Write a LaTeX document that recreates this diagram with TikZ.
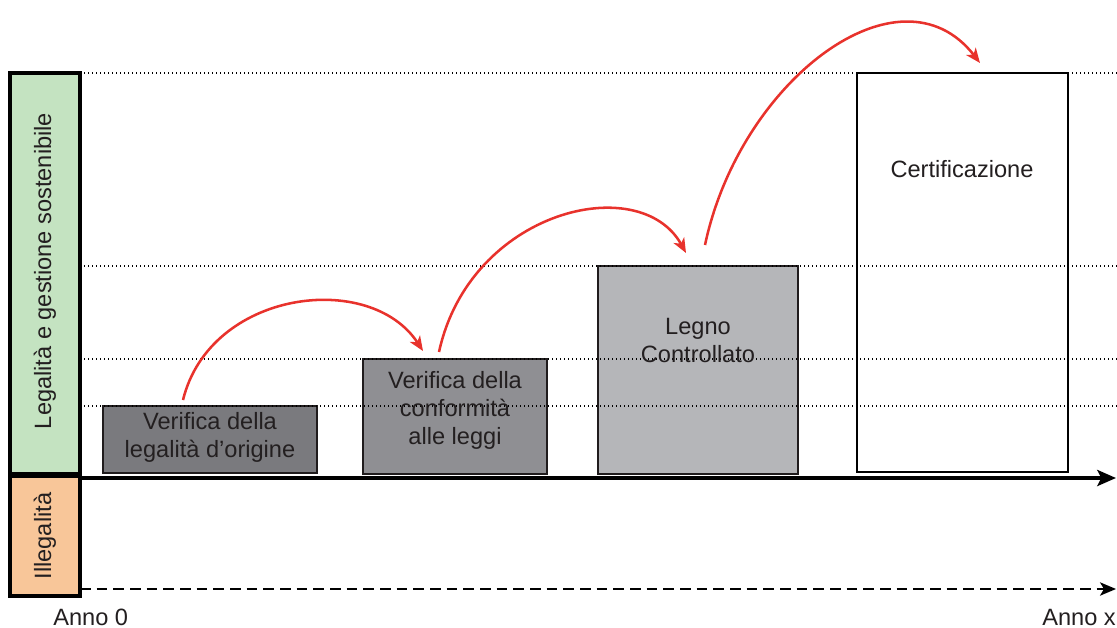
\documentclass[tikz,border=0pt]{standalone}
\usepackage{fontspec}
\setmainfont{Liberation Sans}
\usetikzlibrary{arrows.meta,fit}
\definecolor{legalgreen}{HTML}{C4E3C1}
\definecolor{illegalorange}{HTML}{F8C699}
\definecolor{boxA}{HTML}{7A7A7E}
\definecolor{boxB}{HTML}{8F8F93}
\definecolor{boxC}{HTML}{B5B6B9}
\definecolor{jumpred}{HTML}{E8322C}
\definecolor{txtgray}{HTML}{231F20}
\begin{document}
\begin{tikzpicture}[x=0.75pt,y=-0.75pt,
  sidebox/.style={draw=black,line width=3pt,inner sep=0pt},
  stepbox/.style={draw=txtgray!90!black,line width=1.3pt,inner sep=0pt},
  lbl/.style={text=txtgray,font=\fontsize{17.7}{21}\selectfont,align=center,inner sep=0pt},
  guide/.style={line width=1.1pt,dash pattern=on 1.1pt off 1.9pt,black},
  jump/.style={jumpred,line width=1.9pt,-{Stealth[length=11pt,width=9pt,inset=3pt]}}]
\useasboundingbox (0,0) rectangle (1117,628);
% side bars
\node[sidebox,fill=legalgreen,fit={(10,73) (80,474)}] (legal) {};
\node[sidebox,fill=illegalorange,fit={(10,476) (80,596)}] (illegal) {};
\node[lbl,rotate=90] at (45,271) {Legalità e gestione sostenibile};
\node[lbl,rotate=90] at (45,536) {Illegalità};
% step boxes
\node[stepbox,fill=boxA,fit={(103,406) (317,473)}] (b1) {};
\node[stepbox,fill=boxB,fit={(363,359) (547,474)}] (b2) {};
\node[stepbox,fill=boxC,fit={(598,266) (798,474)}] (b3) {};
\node[stepbox,fill=white,line width=1.8pt,draw=black,fit={(857,73) (1068,472)}] (b4) {};
% guide lines
\coordinate (g1s) at (80,73);   \coordinate (g1e) at (1117,73);
\coordinate (g2s) at (80,266);  \coordinate (g2e) at (1117,266);
\coordinate (g3s) at (80,359);  \coordinate (g3e) at (1117,359);
\coordinate (g4s) at (80,406);  \coordinate (g4e) at (1117,406);
\draw[guide] (g1s) -- (g1e);
\draw[guide] (g2s) -- (g2e);
\draw[guide] (g3s) -- (g3e);
\draw[guide] (g4s) -- (g4e);
% texts
\node[lbl] at (210,437) {Verifica della\\legalità d’origine};
\node[lbl] at (455,410) {Verifica della\\conformità\\alle leggi};
\node[lbl] at (698,340) {Legno\\Controllato};
\node[lbl] at (962,169) {Certificazione};
% axes
\coordinate (ax0) at (80,478);  \coordinate (ax1) at (1116,478);
\coordinate (dx0) at (80,589);  \coordinate (dx1) at (1116,589);
\draw[line width=3pt,-{Stealth[length=14pt,width=12pt,inset=3pt]}] (ax0) -- (ax1);
\draw[line width=1.5pt,dash pattern=on 8pt off 4.5pt,-{Stealth[length=12pt,width=10pt,inset=3pt]}] (dx0) -- (dx1);
\node[lbl,anchor=west] (a0) at (53,617) {Anno 0};
\node[lbl,anchor=east] (ax) at (1116,617) {Anno x};
% jumps
\coordinate (s1) at (183,400); \coordinate (e1) at (423,351);
\coordinate (s2) at (439,352); \coordinate (e2) at (686,253);
\coordinate (s3) at (705,245); \coordinate (e3) at (980,63);
\draw[jump] (s1) .. controls (210,290) and (370,270) .. (e1);
\draw[jump] (s2) .. controls (470,210) and (640,170) .. (e2);
\draw[jump] (s3) .. controls (740,80) and (900,-40) .. (e3);
\end{tikzpicture}
\end{document}
